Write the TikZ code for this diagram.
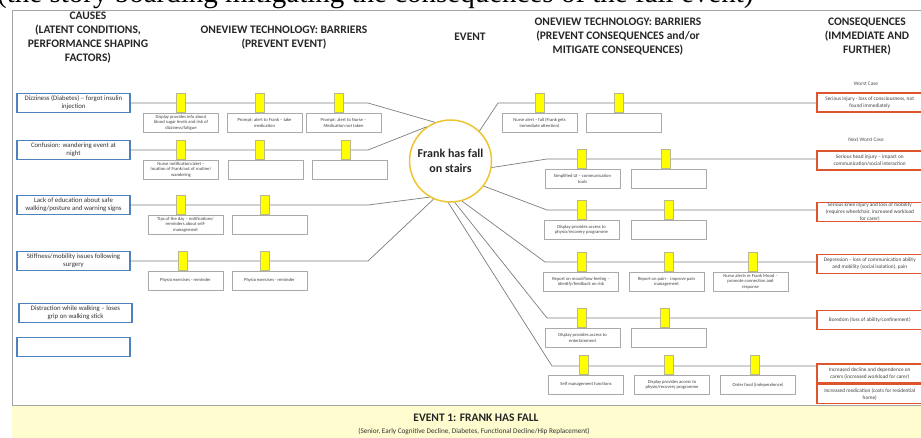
\documentclass[tikz,border=0pt]{standalone}
\usepackage{fontspec}
\setmainfont{Carlito}
\newfontfamily\capfont{Liberation Serif}
\usetikzlibrary{calc}
\definecolor{causeblue}{RGB}{79,129,189}
\definecolor{conred}{RGB}{222,84,44}
\definecolor{tabyellow}{RGB}{255,255,0}
\definecolor{tabedge}{RGB}{185,185,140}
\definecolor{boxgray}{RGB}{170,170,170}
\definecolor{linkgray}{RGB}{125,125,125}
\definecolor{framegray}{RGB}{165,165,165}
\definecolor{ringgold}{RGB}{238,196,48}
\definecolor{bandfill}{RGB}{255,253,208}
\newcommand\fs[2]{\fontsize{#1}{#2}\selectfont}
\newcommand\zw[1]{\makebox[0pt][c]{#1}}

\begin{document}
\begin{tikzpicture}[x=1pt,y=-1pt,
  head/.style={font=\bfseries\fs{11.5}{14}, align=center, text=black!85, inner sep=0},
  cause/.style={draw=causeblue, line width=1.5, fill=white, minimum width=113,
    minimum height=19, inner sep=0, align=center, font=\fs{6.8}{8}, text=black!80},
  barrier/.style={draw=boxgray, line width=1, fill=white, minimum width=75,
    minimum height=19.5, inner sep=0, align=center, font=\fs{4.6}{5.8},
    text=black!75, anchor=north},
  tabmark/.style={draw=tabedge, line width=0.6, fill=tabyellow, minimum width=9,
    minimum height=19, inner sep=0},
  conseq/.style={draw=conred, line width=1.5, fill=white, minimum width=106,
    minimum height=19, inner sep=0, align=center, font=\fs{5.3}{7},
    text=black!75, anchor=west},
  caselabel/.style={font=\fs{5.3}{7}, text=black!70, inner sep=0},
  event/.style={circle, draw=ringgold, line width=1.5, fill=white,
    minimum size=82, inner sep=0, align=center, font=\bfseries\fs{12}{15}, text=black!85},
  link/.style={draw=linkgray, line width=0.7},
  frame/.style={draw=framegray, line width=0.9}]
\useasboundingbox (0,0) rectangle (921,437);

% caption line running off the top of the page
\node[anchor=base west, font=\capfont\fs{29}{29}, inner sep=0] (caption) at (-3,2)
  {(the story boarding mitigating the consequences of the fall event)};

% outer frame and footer band
\draw[frame] (12,405) -- (12,10) -- (922,10);
\fill[bandfill] (12,405) rectangle (922,438);
\draw[frame] (12,405) -- (922,405);
\node[font=\bfseries\fs{11.5}{13}, text=black!85, inner sep=0] (bandtitle) at (476,418)
  {EVENT 1: FRANK HAS FALL};
\node[font=\fs{7.2}{9}, text=black!80, inner sep=0] (bandsub) at (474,431)
  {(Senior, Early Cognitive Decline, Diabetes, Functional Decline/Hip Replacement)};

% column headings
\node[head] (hcause) at (88,38) {CAUSES\\(LATENT CONDITIONS,\\PERFORMANCE SHAPING\\FACTORS)};
\node[head] (hprevent) at (284,38) {ONEVIEW TECHNOLOGY: BARRIERS\\(PREVENT EVENT)};
\node[head] (hevent) at (470,37) {EVENT};
\node[head] (hmitigate) at (618,37) {ONEVIEW TECHNOLOGY: BARRIERS\\(PREVENT CONSEQUENCES and/or\\MITIGATE CONSEQUENCES)};
\node[head] (hconseq) at (867,37) {CONSEQUENCES\\(IMMEDIATE AND\\FURTHER)};

% central event
\node[event] (ev) at (450.5,161) {Frank has fall\\on stairs};

% causes
\node[cause] (c1) at (73.5,103) {Dizziness (Diabetes) -- forgot insulin\\injection};
\node[cause] (c2) at (73.5,150) {Confusion: wandering event at\\night};
\node[cause] (c3) at (73.5,205) {Lack of education about safe\\walking/posture and warning signs};
\node[cause] (c4) at (73.5,261) {Stiffness/mobility issues following\\surgery};
\node[cause] (c5) at (75.5,313) {Distraction while walking -- loses\\grip on walking stick};
\node[cause] (c6) at (73.5,347) {};

% consequences
\node[caselabel] (worst) at (866,84) {Worst Case};
\node[caselabel] (nextworst) at (866,140) {Next Worst Case};
\node[conseq] (q1) at (816,102.5) {\zw{Serious injury - loss of consciousness, not}\\\zw{found immediately}};
\node[conseq] (q2) at (816,160.5) {\zw{Serious head injury -- impact on}\\\zw{communication/social interaction}};
\node[conseq] (q3) at (816,212) {\zw{Serious knee injury and loss of mobility}\\\zw{(requires wheelchair, increased workload}\\\zw{for carer)}};
\node[conseq] (q4) at (816,264) {\zw{Depression -- loss of communication ability}\\\zw{and mobility (social isolation), pain}};
\node[conseq] (q5) at (816,320) {\zw{Boredom (loss of ability/confinement)}};
\node[conseq] (q6) at (816,373.5) {\zw{Increased decline and dependence on}\\\zw{carers (increased workload for carer)}};
\node[conseq] (q7) at (816,394) {\zw{Increased medication (costs for residential}\\\zw{home)}};

% bend points of the connector lines
\coordinate (k1) at (368,103);
\coordinate (k2) at (368,150);
\coordinate (k3) at (368,205);
\coordinate (k4) at (368,261);
\coordinate (m1) at (498,103);
\coordinate (m2) at (547,159);
\coordinate (m3) at (547,210);
\coordinate (m4) at (545,262);
\coordinate (m5) at (547,318);
\coordinate (m6) at (552,366);

% cause side connectors
\draw[link] (c1.east) -- (k1) -- (ev.112);
\draw[link] (c2.east) -- (k2) -- (ev.125);
\draw[link] (c3.east) -- (k3) -- (ev.240);
\draw[link] (c4.east) -- (k4) -- (ev.246);

% consequence side connectors
\draw[link] (ev.46) -- (m1) -- (m1 -| q1.west);
\draw[link] (ev.-9) -- (m2) -- (m2 -| q2.west);
\draw[link] (ev.-37) -- (m3) -- (m3 -| q3.west);
\draw[link] (ev.-74) -- (m4) -- (m4 -| q4.west);
\draw[link] (ev.-84) -- (m5) -- (m5 -| q5.west);
\draw[link] (ev.-93) -- (m6) -- (m6 -| q6.west);

% barriers preventing the event
\node[barrier] (p11) at (181,112.5) {Display provides info about\\blood sugar levels and risk of\\dizziness/fatigue};
\node[barrier] (p12) at (264.5,112.5) {Prompt: alert to Frank -- take\\medication};
\node[barrier] (p13) at (343.5,112.5) {Prompt: alert to Nurse --\\Medication not taken};
\node[tabmark] (t11) at (180.5,103) {};
\node[tabmark] (t12) at (259.5,103) {};
\node[tabmark] (t13) at (338.5,103) {};

\node[barrier] (p21) at (181,159.5) {Nurse notification/alert --\\location of Frank/out of routine/\\wandering};
\node[barrier] (p22) at (265.5,159.5) {};
\node[barrier] (p23) at (349.5,159.5) {};
\node[tabmark] (t21) at (180.5,150) {};
\node[tabmark] (t22) at (259.5,150) {};
\node[tabmark] (t23) at (345.5,150) {};

\node[barrier] (p31) at (185.5,214.5) {Tips of the day -- notifications/\\reminders about self-\\management};
\node[barrier] (p32) at (269.5,214.5) {};
\node[tabmark] (t31) at (180.5,205) {};
\node[tabmark] (t32) at (265,205) {};

\node[barrier] (p41) at (185.5,270.5) {Physio exercises - reminder};
\node[barrier] (p42) at (269.5,270.5) {Physio exercises - reminder};
\node[tabmark] (t41) at (183,261) {};
\node[tabmark] (t42) at (264.5,261) {};

% barriers preventing or mitigating consequences
\node[barrier] (r11) at (539.5,112.5) {Nurse alert -- fall (Frank gets\\immediate attention)};
\node[barrier] (r12) at (623.5,112.5) {};
\node[tabmark] (u11) at (539.5,103) {};
\node[tabmark] (u12) at (618.5,103) {};

\node[barrier] (r21) at (582.5,168.5) {Simplified UI -- communication\\tools};
\node[barrier] (r22) at (668.5,168.5) {};
\node[tabmark] (u21) at (581.5,159) {};
\node[tabmark] (u22) at (665.5,159) {};

\node[barrier] (r31) at (581.5,219.5) {Display provides access to\\physio/recovery programme};
\node[barrier] (r32) at (668.5,219.5) {};
\node[tabmark] (u31) at (582,210) {};
\node[tabmark] (u32) at (669,210) {};

\node[barrier] (r41) at (581,271.5) {Report on mood/how feeling --\\identify/feedback on risk};
\node[barrier] (r42) at (666.5,271.5) {Report on pain -\enspace improve pain\\management};
\node[barrier] (r43) at (750.5,271.5) {Nurse alerts re Frank Mood --\\promote connection and\\response};
\node[tabmark] (u41) at (581.5,262) {};
\node[tabmark] (u42) at (668.5,262) {};
\node[tabmark] (u43) at (752.5,262) {};

\node[barrier] (r51) at (582.5,327.5) {Display provides access to\\entertainment};
\node[barrier] (r52) at (668.5,327.5) {};
\node[tabmark] (u51) at (581.5,318) {};
\node[tabmark] (u52) at (665,318) {};

\node[barrier] (r61) at (586,374.5) {Self management functions};
\node[barrier] (r62) at (672,374.5) {Display provides access to\\physio/recovery programme};
\node[barrier] (r63) at (758,374.5) {Order food (independence)};
\node[tabmark] (u61) at (583.5,365) {};
\node[tabmark] (u62) at (668.5,365) {};
\node[tabmark] (u63) at (754.5,365) {};
\end{tikzpicture}
\end{document}
